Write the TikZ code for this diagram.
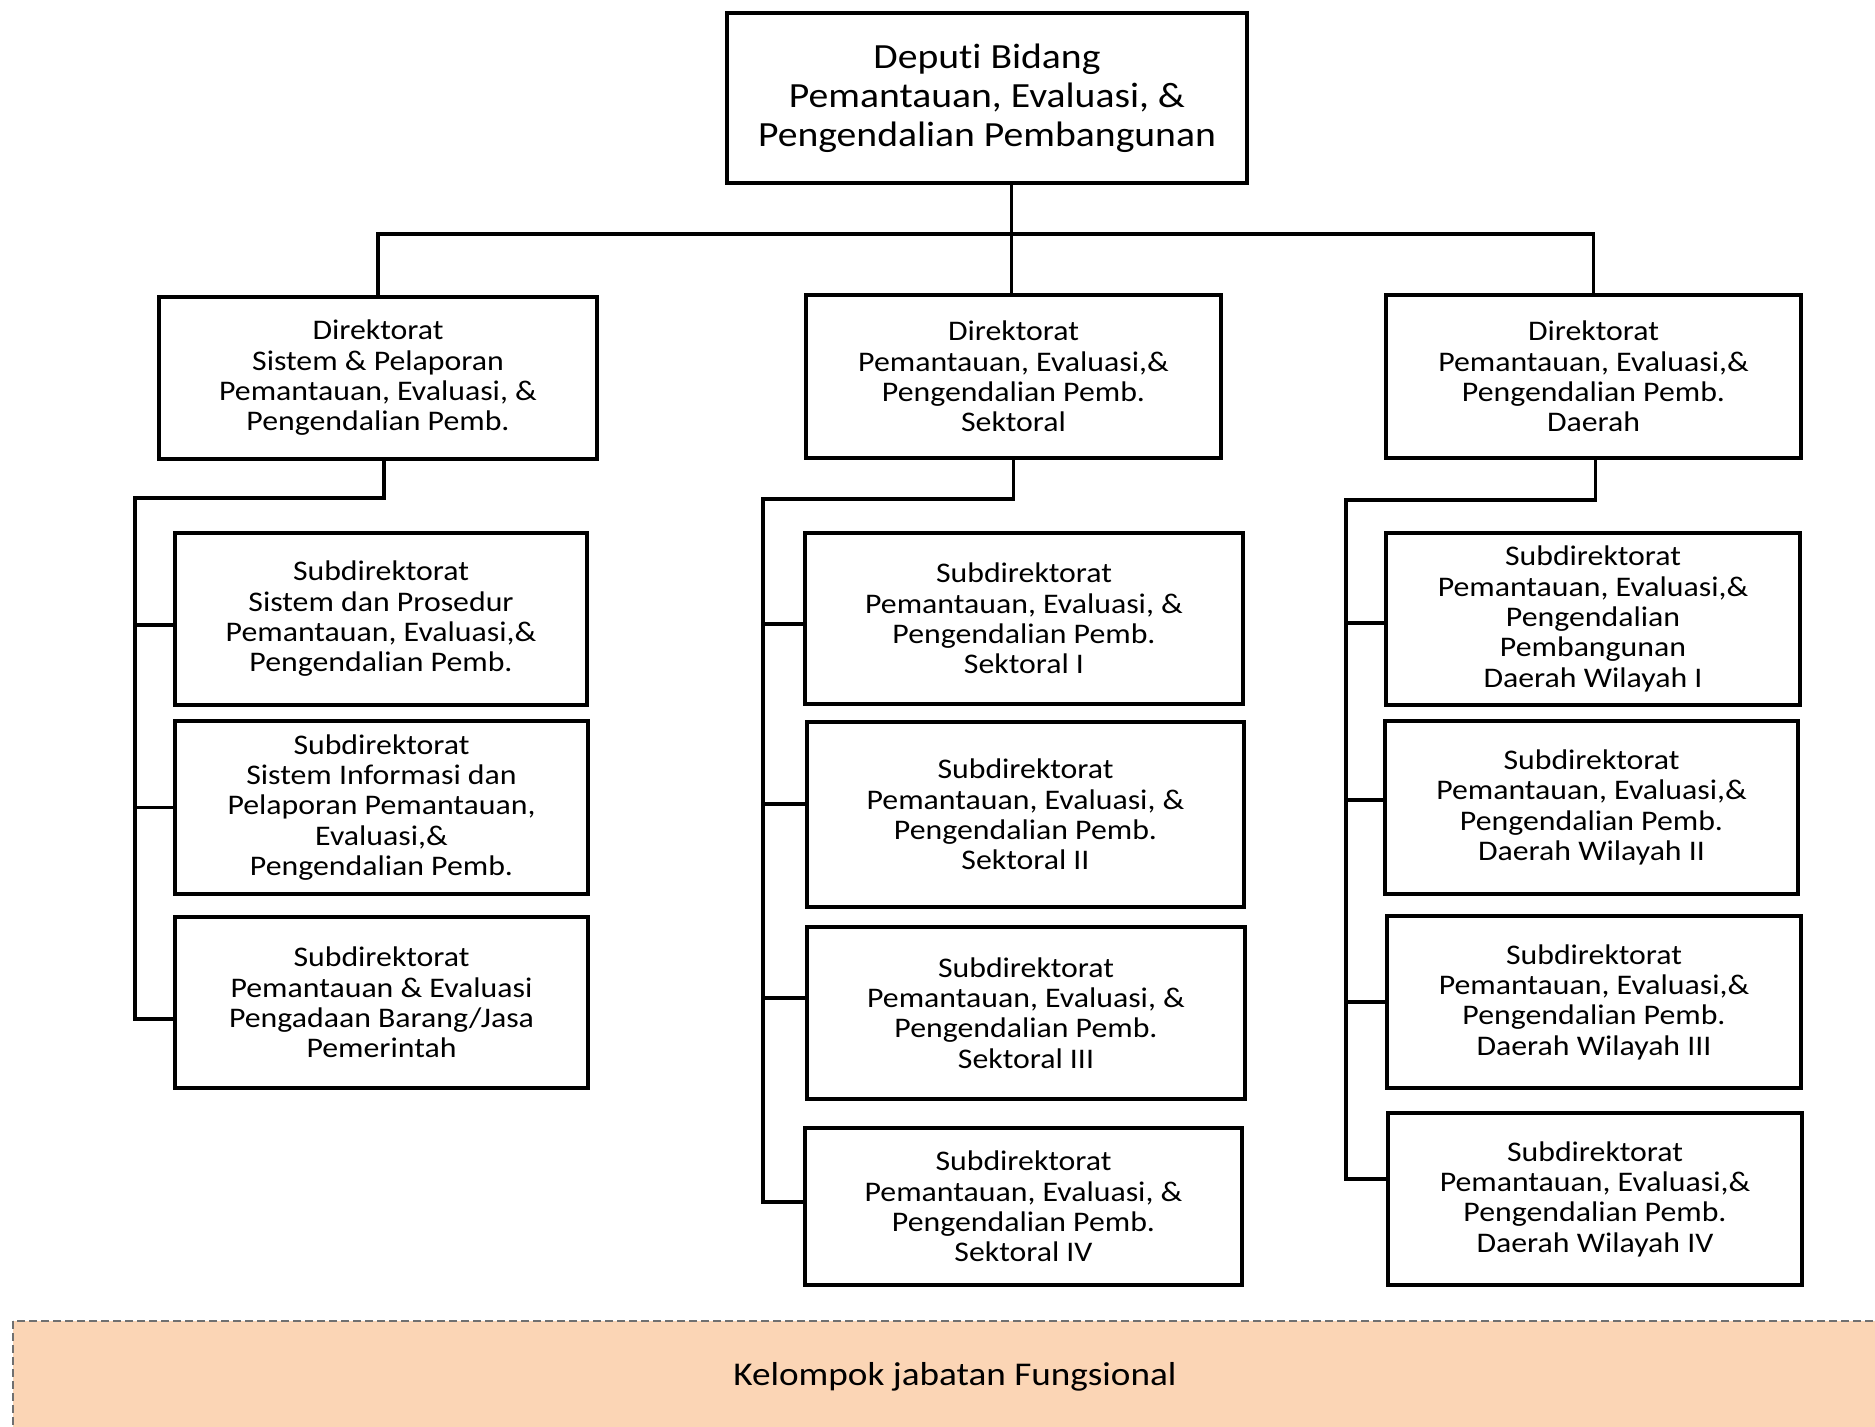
\documentclass[tikz,border=0pt]{standalone}
\usepackage{fontspec}
\setmainfont[FakeStretch=1.12,Ligatures={NoCommon}]{Carlito}
\definecolor{peach}{HTML}{FBD5B5}
\definecolor{dgray}{HTML}{707070}
\newcommand\boxfont{\fontsize{14.2}{15.15}\selectfont}
\newcommand\topfont{\fontsize{17.7}{19.4}\selectfont}
\newcommand\botfont{\fontsize{16.6}{19}\selectfont}
\newcommand\obox[7][]{\node[obox,#1,minimum width={(#4-#2)*0.5pt},minimum height={(#5-#3)*0.5pt}] (#6) at ({(#2+#4)/2},{(#3+#5)/2}) {#7};}
\begin{document}
\begin{tikzpicture}[x=0.5pt,y=-0.5pt,
  obox/.style={draw, line width=1.8pt, align=center, inner sep=0pt, font=\boxfont},
  conn/.style={line width=1.8pt},
  fgroup/.style={draw=dgray, line width=1pt, dash pattern=on 4pt off 2pt, fill=peach}]
\useasboundingbox (0,0) rectangle (1875,1426);
\clip (0,0) rectangle (1875,1426);
% functional group
\draw[fgroup] (13,1321) rectangle (1900,1450);
\node[font=\botfont] (kjf) at (955,1377) {Kelompok jabatan Fungsional};
% boxes
\obox[font=\topfont]{727}{13}{1247}{183}{top}{Deputi Bidang\\Pemantauan, Evaluasi, \&\\Pengendalian Pembangunan}
\obox{159}{297}{597}{459}{ldir}{Direktorat\\Sistem \& Pelaporan\\Pemantauan, Evaluasi, \&\\Pengendalian Pemb.}
\obox{806}{295}{1221}{458}{mdir}{Direktorat\\Pemantauan, Evaluasi,\&\\Pengendalian Pemb.\\Sektoral}
\obox{1386}{295}{1801}{458}{rdir}{Direktorat\\Pemantauan, Evaluasi,\&\\Pengendalian Pemb.\\Daerah}
\obox{175}{533}{587}{705}{l1}{Subdirektorat\\Sistem dan Prosedur\\Pemantauan, Evaluasi,\&\\Pengendalian Pemb.}
\obox{175}{721}{588}{894}{l2}{Subdirektorat\\Sistem Informasi dan\\Pelaporan Pemantauan,\\Evaluasi,\&\\Pengendalian Pemb.}
\obox{175}{917}{588}{1088}{l3}{Subdirektorat\\Pemantauan \& Evaluasi\\Pengadaan Barang/Jasa\\Pemerintah}
\obox{805}{533}{1243}{704}{m1}{Subdirektorat\\Pemantauan, Evaluasi, \&\\Pengendalian Pemb.\\Sektoral I}
\obox{807}{722}{1244}{907}{m2}{Subdirektorat\\Pemantauan, Evaluasi, \&\\Pengendalian Pemb.\\Sektoral II}
\obox{807}{927}{1245}{1099}{m3}{Subdirektorat\\Pemantauan, Evaluasi, \&\\Pengendalian Pemb.\\Sektoral III}
\obox{805}{1128}{1242}{1285}{m4}{Subdirektorat\\Pemantauan, Evaluasi, \&\\Pengendalian Pemb.\\Sektoral IV}
\obox{1386}{533}{1800}{705}{r1}{Subdirektorat\\Pemantauan, Evaluasi,\&\\Pengendalian\\Pembangunan\\Daerah Wilayah I}
\obox{1385}{721}{1798}{894}{r2}{Subdirektorat\\Pemantauan, Evaluasi,\&\\Pengendalian Pemb.\\Daerah Wilayah II}
\obox{1387}{916}{1801}{1088}{r3}{Subdirektorat\\Pemantauan, Evaluasi,\&\\Pengendalian Pemb.\\Daerah Wilayah III}
\obox{1388}{1113}{1802}{1285}{r4}{Subdirektorat\\Pemantauan, Evaluasi,\&\\Pengendalian Pemb.\\Daerah Wilayah IV}
% top connectors
\coordinate (bus) at (0,234);
\draw[conn] ([xshift=-1pt]top.south -| mdir.north) -- ([xshift=-1pt]mdir.north);
\draw[conn] (ldir.north) -- (ldir.north |- bus) -- (rdir.north |- bus) -- (rdir.north);
% left subtree
\coordinate (lsp) at (135,498);
\coordinate (l1b) at ([yshift=-3pt]l1.west);
\coordinate (l2b) at (l2.west);
\coordinate (l3b) at ([yshift=-8.25pt]l3.west);
\draw[conn] ([xshift=3pt]ldir.south) |- (lsp) |- (l3b);
\draw[conn] (lsp |- l1b) -- (l1b);
\draw[conn] (lsp |- l2b) -- (l2b);
% middle subtree
\coordinate (msp) at (763,499);
\coordinate (m1b) at ([yshift=-2.75pt]m1.west);
\coordinate (m2b) at ([yshift=5.25pt]m2.west);
\coordinate (m3b) at ([yshift=7.5pt]m3.west);
\coordinate (m4b) at ([yshift=2.25pt]m4.west);
\draw[conn] (mdir.south) |- (msp) |- (m4b);
\draw[conn] (msp |- m1b) -- (m1b);
\draw[conn] (msp |- m2b) -- (m2b);
\draw[conn] (msp |- m3b) -- (m3b);
% right subtree
\coordinate (rsp) at (1346,500);
\coordinate (r1b) at ([yshift=-2pt]r1.west);
\coordinate (r2b) at ([yshift=3.75pt]r2.west);
\coordinate (r3b) at (r3.west);
\coordinate (r4b) at ([yshift=10pt]r4.west);
\draw[conn] ([xshift=1pt]rdir.south) |- (rsp) |- (r4b);
\draw[conn] (rsp |- r1b) -- (r1b);
\draw[conn] (rsp |- r2b) -- (r2b);
\draw[conn] (rsp |- r3b) -- (r3b);
\end{tikzpicture}
\end{document}
